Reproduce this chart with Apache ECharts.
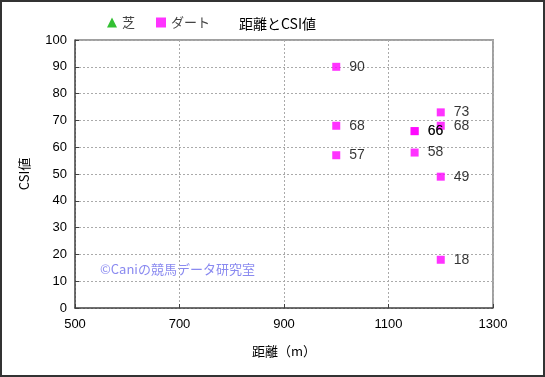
<!DOCTYPE html>
<html>
<head>
<meta charset="utf-8">
<script src="https://cdn.jsdelivr.net/npm/echarts@6/dist/echarts.min.js"></script>
<style>
  html, body { margin: 0; padding: 0; background: #fff; }
  #csiChart { width: 545px; height: 377px; }
</style>
</head>
<body>
<div id="csiChart"></div>
<script>
  // 芝はデータなし（凡例のみ）
  var shibaPoints = [];
  // ダート：距離(m), CSI値
  var dirtDistance = [1000, 1000, 1000, 1150, 1150, 1150, 1200, 1200, 1200, 1200];
  var dirtCsi      = [90,   68,   57,   66,   66,   58,   73,   68,   49,   18];

  var xTicks = [500, 700, 900, 1100, 1300];
  var yTicks = [0, 10, 20, 30, 40, 50, 60, 70, 80, 90, 100];

  var fontJa = '"Noto Sans CJK JP", sans-serif';
  var fontNum = '"Liberation Sans", "Noto Sans CJK JP", sans-serif';

  var dirtPoints = dirtDistance.map(function (d, i) { return [d, dirtCsi[i]]; });

  var chart = echarts.init(document.getElementById('csiChart'));
  chart.setOption({
    animation: false,
    textStyle: { fontFamily: fontJa },
    title: {
      text: '距離とCSI値',
      left: 234,
      top: 12,
      textStyle: { fontSize: 14, fontWeight: 'normal', color: '#000', fontFamily: fontJa }
    },
    legend: {
      left: 102,
      top: 11,
      itemGap: 21,
      itemWidth: 10,
      itemHeight: 10,
      textStyle: { fontSize: 13, color: '#444', fontFamily: fontJa },
      data: [
        { name: '芝', icon: 'triangle', itemStyle: { color: '#00b000' } },
        { name: 'ダート', icon: 'rect', itemStyle: { color: '#ff00ff' } }
      ]
    },
    grid: { left: 75, top: 40, right: 52, bottom: 69 },
    xAxis: {
      type: 'value',
      min: xTicks[0],
      max: xTicks[xTicks.length - 1],
      interval: 200,
      name: '距離（m）',
      nameLocation: 'center',
      nameGap: 37,
      nameTextStyle: { fontSize: 13, color: '#000', fontFamily: fontJa },
      axisLine: { lineStyle: { color: '#404040', width: 1.5 } },
      axisTick: { show: true, inside: true, length: 4, lineStyle: { color: '#404040' } },
      axisLabel: { fontSize: 13, color: '#000', margin: 10, fontFamily: fontNum,
        formatter: function (v) { return String(v); } },
      splitLine: { show: true, lineStyle: { color: '#aaa', type: [2, 2] } }
    },
    yAxis: {
      type: 'value',
      min: yTicks[0],
      max: yTicks[yTicks.length - 1],
      interval: 10,
      name: 'CSI値',
      nameLocation: 'center',
      nameRotate: 90,
      nameGap: 44,
      nameTextStyle: { fontSize: 13, color: '#000', fontFamily: fontJa },
      axisLine: { show: true, lineStyle: { color: '#404040', width: 1.5 } },
      axisTick: { show: true, inside: true, length: 4, lineStyle: { color: '#404040' } },
      axisLabel: { fontSize: 13, color: '#000', margin: 8, fontFamily: fontNum },
      splitLine: { show: true, lineStyle: { color: '#aaa', type: [2, 2] } }
    },
    graphic: [
      {
        type: 'rect',
        shape: { x: 1, y: 1, width: 543, height: 375 },
        style: { fill: 'none', stroke: '#333', lineWidth: 2 },
        silent: true
      },
      {
        type: 'polyline',
        shape: { points: [[75, 40], [493, 40], [493, 308]] },
        style: { fill: 'none', stroke: '#a0a0a0', lineWidth: 2 },
        silent: true
      },
      {
        type: 'text',
        left: 100,
        top: 263,
        style: {
          text: '©Caniの競馬データ研究室',
          fill: '#8a8af0',
          fontSize: 13,
          fontFamily: fontJa
        },
        silent: true
      }
    ],
    series: [
      {
        name: '芝',
        type: 'scatter',
        symbol: 'triangle',
        symbolSize: 9,
        itemStyle: { color: '#00b000' },
        data: shibaPoints
      },
      {
        name: 'ダート',
        type: 'scatter',
        symbol: 'rect',
        symbolSize: 8,
        itemStyle: { color: '#ff00ff' },
        label: {
          show: true,
          position: 'right',
          distance: 9,
          fontSize: 14,
          color: '#000',
          fontFamily: fontNum,
          formatter: function (p) { return p.value[1]; }
        },
        labelLayout: { hideOverlap: false },
        data: dirtPoints
      }
    ]
  });
</script>
</body>
</html>
